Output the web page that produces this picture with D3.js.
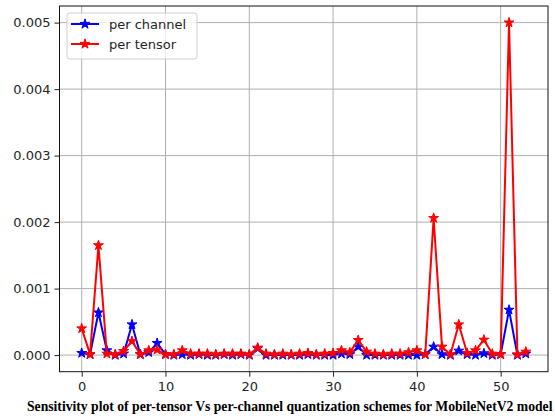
<!DOCTYPE html>
<html><head><meta charset="utf-8">
<script src="https://cdn.jsdelivr.net/npm/d3@7"></script>
<style>body{margin:0;background:#fff}svg{display:block}</style>
</head><body>
<script>
const layers = d3.range(0, 54);
const perChannel = [0.00003,0.00001,0.00064,0.00007,0.00000,0.00002,0.00046,0.00001,0.00004,0.00018,
  0.00001,0.00000,0.00001,0.00000,0.00001,0.00000,0.00000,0.00001,0.00000,0.00001,
  0.00000,0.00010,0.00000,0.00000,0.00000,0.00000,0.00000,0.00001,0.00000,0.00000,
  0.00000,0.00002,0.00001,0.000125,0.00000,0.00000,0.00000,0.00000,0.00000,0.00000,
  0.00000,0.00001,0.000125,0.00001,0.00000,0.000065,0.00001,0.00000,0.000025,0.00000,
  0.00001,0.00068,0.00000,0.00002];
const perTensor = [0.00040,0.00001,0.00165,0.00002,0.00001,0.00006,0.00021,0.00001,0.00007,0.00008,
  0.00001,0.00001,0.00007,0.00002,0.00002,0.00002,0.00001,0.00002,0.00002,0.00002,
  0.00001,0.00011,0.00002,0.00001,0.00002,0.00001,0.00002,0.00003,0.00001,0.00002,
  0.00003,0.00007,0.00004,0.000225,0.00005,0.00002,0.00001,0.00002,0.00002,0.00004,
  0.00007,0.00001,0.00206,0.000125,0.00001,0.00046,0.00003,0.00007,0.00023,0.00002,
  0.00001,0.00500,0.00001,0.00005];
const xTicks = [0,10,20,30,40,50];
const yTicks = [0,0.001,0.002,0.003,0.004,0.005];
const seriesNames = ["per channel","per tensor"];
const seriesColors = ["#0000ff","#ff0000"];
const caption = "Sensitivity plot of per-tensor Vs per-channel quantization schemes for MobileNetV2 model";

const W = 555, H = 416;
const L = 59.5, R = 548, T = 6, B = 371.7;
const svg = d3.select("body").append("svg").attr("width", W).attr("height", H);
const x = d3.scaleLinear().domain([-2.65, 55.65]).range([L, R]);
const y = d3.scaleLinear().domain([-0.00025, 0.00525]).range([B, T]);

// grid
const g = svg.append("g");
g.selectAll("line.vx").data(xTicks).join("line")
  .attr("x1", d => x(d)).attr("x2", d => x(d)).attr("y1", T).attr("y2", B)
  .attr("stroke", "#b0b0b0").attr("stroke-width", 1);
g.selectAll("line.hy").data(yTicks).join("line")
  .attr("y1", d => y(d)).attr("y2", d => y(d)).attr("x1", L).attr("x2", R)
  .attr("stroke", "#b0b0b0").attr("stroke-width", 1);

// axes
const xAxis = d3.axisBottom(x).tickValues(xTicks).tickSize(5).tickPadding(5).tickFormat(d3.format("d"));
const yAxis = d3.axisLeft(y).tickValues(yTicks).tickSize(5).tickPadding(4).tickFormat(d3.format(".3f"));
const ax = svg.append("g").attr("transform", `translate(0,${B})`).call(xAxis);
const ay = svg.append("g").attr("transform", `translate(${L},0)`).call(yAxis);
[ax, ay].forEach(a => {
  a.select(".domain").remove();
  a.selectAll("text").attr("font-family", "DejaVu Sans").attr("font-size", 13).attr("fill", "#262626");
  a.selectAll("line").attr("stroke", "#222");
});
svg.append("rect").attr("x", L).attr("y", T).attr("width", R - L).attr("height", B - T)
  .attr("fill", "none").attr("stroke", "#111").attr("stroke-width", 1);

// series
const clip = svg.append("clipPath").attr("id", "c").append("rect")
  .attr("x", L).attr("y", T).attr("width", R - L).attr("height", B - T);
const star = d3.symbol().type(d3.symbolStar).size(30);
const series = [perChannel, perTensor];
series.forEach((vals, si) => {
  const data = layers.map((l, i) => [l, vals[i]]);
  const sg = svg.append("g");
  sg.append("path").datum(data)
    .attr("d", d3.line().x(d => x(d[0])).y(d => y(d[1])))
    .attr("fill", "none").attr("stroke", seriesColors[si]).attr("stroke-width", 2).attr("stroke-linejoin", "round");
  sg.selectAll("path.m").data(data).join("path").attr("class", "m")
    .attr("d", star).attr("transform", d => `translate(${x(d[0])},${y(d[1])})`)
    .attr("fill", seriesColors[si]).attr("stroke", seriesColors[si]).attr("stroke-width", 1);
});

// legend
const lg = svg.append("g");
lg.append("rect").attr("x", 67).attr("y", 13).attr("width", 130).attr("height", 46).attr("rx", 3)
  .attr("fill", "#fff").attr("fill-opacity", 0.8).attr("stroke", "#d0d0d0").attr("stroke-width", 1);
seriesNames.forEach((n, i) => {
  const yy = 24 + i * 20;
  lg.append("line").attr("x1", 71).attr("x2", 99).attr("y1", yy).attr("y2", yy)
    .attr("stroke", seriesColors[i]).attr("stroke-width", 2);
  lg.append("path").attr("d", star).attr("transform", `translate(85,${yy})`)
    .attr("fill", seriesColors[i]).attr("stroke", seriesColors[i]);
  lg.append("text").attr("x", 109).attr("y", yy + 4.5).text(n)
    .attr("font-family", "DejaVu Sans").attr("font-size", 13).attr("fill", "#262626");
});

// caption
const cap = svg.append("text").attr("x", 27).attr("y", 411).text(caption)
  .attr("font-family", "Liberation Serif, Times New Roman, serif").attr("font-weight", "bold")
  .attr("font-size", 13).attr("fill", "#000");
const w = cap.node().getComputedTextLength();
cap.attr("font-size", 13 * 526 / w);
</script>
</body></html>
